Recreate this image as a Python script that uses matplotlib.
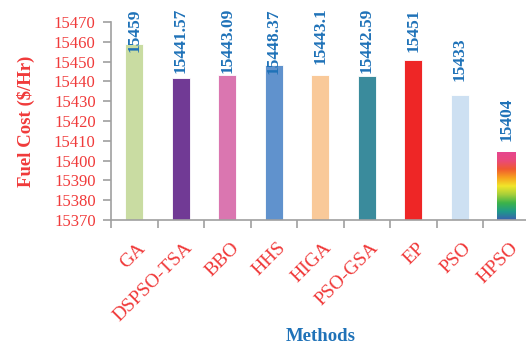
import numpy as np
import matplotlib
matplotlib.use("Agg")
import matplotlib.pyplot as plt
import matplotlib.transforms as mtransforms
from matplotlib.colors import LinearSegmentedColormap

# Fuel cost comparison of optimisation methods
methods = ["GA", "DSPSO-TSA", "BBO", "HHS", "HIGA", "PSO-GSA", "EP", "PSO", "HPSO"]
fuel_cost = [15459, 15441.57, 15443.09, 15448.37, 15443.1, 15442.59, 15451, 15433, 15404]
cost_labels = ["15459", "15441.57", "15443.09", "15448.37", "15443.1",
               "15442.59", "15451", "15433", "15404"]
yticks = [15370, 15380, 15390, 15400, 15410, 15420, 15430, 15440, 15450, 15460, 15470]

bar_colors = ["#c9dca2", "#713a95", "#da76b0", "#6092cd", "#f9c999",
              "#3a8b9c", "#ee2626", "#cde0f2", None]
# vertical nudge (pixels) of each value label above its bar top
label_nudge = [-8, 5, 2, -9, 11, 3, 8, 14, 12]

red = "#f03a3a"
blue = "#1f72b8"
serif = ["Liberation Serif", "DejaVu Serif"]

W, H = 526, 345
fig = plt.figure(figsize=(W / 100, H / 100), dpi=100)
left, right, top, bottom = 111, 529.5, 22, 220
ax = fig.add_axes([left / W, (H - bottom) / H, (right - left) / W, (bottom - top) / H])

x = np.arange(len(methods))
bw = 0.39
ymin, ymax = 15370, 15470
bars = ax.bar(x, [v - ymin for v in fuel_cost], bottom=ymin, width=bw,
              color=[c if c else "none" for c in bar_colors],
              edgecolor="white", linewidth=0.6, zorder=2)

# rainbow fill for the last bar
rainbow = LinearSegmentedColormap.from_list(
    "rainbow_bar", ["#3a5fb0", "#1f9a8a", "#3cb34a", "#a6cf3a", "#f1e62a",
                    "#f7a21e", "#f05a30", "#ea4a7a", "#e6468f"])
hb = bars[-1]
grad = np.linspace(0, 1, 256).reshape(-1, 1)
ax.imshow(grad, cmap=rainbow, origin="lower", aspect="auto",
          extent=[hb.get_x(), hb.get_x() + hb.get_width(), ymin, fuel_cost[-1]],
          zorder=2)

ax.set_xlim(-0.5, len(methods) - 0.5)
ax.set_ylim(ymin, ymax)

for xi, v, lab, dn in zip(x, fuel_cost, cost_labels, label_nudge):
    ax.annotate(lab, (xi, v), xytext=(0, dn * 0.72), textcoords="offset points",
                rotation=90, ha="center", va="bottom", color=blue,
                fontsize=12.5, fontweight="bold", family=serif,
                annotation_clip=False, zorder=3)

# axes styling
for s in ["top", "right"]:
    ax.spines[s].set_visible(False)
for s in ["left", "bottom"]:
    ax.spines[s].set_color("#a0a0a0")
    ax.spines[s].set_linewidth(1.2)

ax.set_yticks(yticks)
ax.set_yticklabels([str(t) for t in yticks], color=red, fontsize=12, family=serif)
ax.tick_params(axis="y", length=6, width=1.2, color="#a0a0a0", direction="out", pad=5)

ax.set_xticks(np.arange(-0.5, len(methods), 1.0))
ax.set_xticklabels([])
ax.tick_params(axis="x", which="major", length=6, width=1.2, color="#a0a0a0", direction="out")
ax.set_xticks(x, minor=True)
ax.set_xticklabels(methods, minor=True, rotation=45, ha="right", rotation_mode="anchor",
                   color=red, fontsize=14, family=serif)
ax.tick_params(axis="x", which="minor", length=0, pad=14)
shift = mtransforms.ScaledTranslation(3 / 100, 0, fig.dpi_scale_trans)
for t in ax.get_xticklabels(minor=True):
    t.set_transform(t.get_transform() + shift)

ax.set_ylabel("Fuel Cost ($/Hr)", color=red, fontsize=13.5, fontweight="bold",
              family=serif, labelpad=14)
ax.set_xlabel("Methods", color=blue, fontsize=13.5, fontweight="bold", family=serif,
              labelpad=2)

fig.savefig("out.png", dpi=100)
